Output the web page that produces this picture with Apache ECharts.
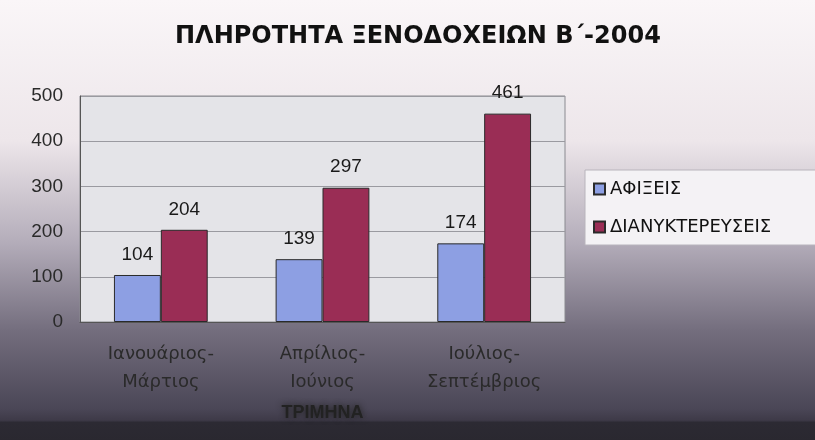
<!DOCTYPE html>
<html>
<head>
<meta charset="utf-8">
<script src="https://cdn.jsdelivr.net/npm/echarts@6/dist/echarts.min.js"></script>
<style>
html,body{margin:0;padding:0;}
#c{width:815px;height:440px;}
</style>
</head>
<body>
<div id="c"></div>
<script>
const categories = ['Ιανουάριος-\nΜάρτιος', 'Απρίλιος-\nΙούνιος', 'Ιούλιος-\nΣεπτέμβριος'];
const arrivals = [104, 139, 174];
const overnights = [204, 297, 461];
const seriesNames = ['ΑΦΙΞΕΙΣ', 'ΔΙΑΝΥΚΤΕΡΕΥΣΕΙΣ'];
const titleText = 'ΠΛΗΡΟΤΗΤΑ ΞΕΝΟΔΟΧΕΙΩΝ Β΄-2004';
const xAxisName = 'ΤΡΙΜΗΝΑ';

const chart = echarts.init(document.getElementById('c'), null, {renderer: 'canvas'});
const font = '"Liberation Sans", Arial, sans-serif';
const wide = '"DejaVu Sans", Verdana, sans-serif';
const labelStyle = {show: true, position: 'top', distance: 11, color: '#1a1a1a', fontSize: 19, fontFamily: font};

chart.setOption({
  animation: false,
  backgroundColor: {
    type: 'linear', x: 0, y: 0, x2: 0, y2: 1,
    colorStops: [
      {offset: 0, color: '#faf6f8'},
      {offset: 0.32, color: '#ede6ea'},
      {offset: 0.55, color: '#b4adba'},
      {offset: 0.75, color: '#746e7e'},
      {offset: 0.93, color: '#4a4656'},
      {offset: 0.955, color: '#3e3a48'},
      {offset: 0.96, color: '#2c2a33'},
      {offset: 1, color: '#2a2830'}
    ]
  },
  title: {
    text: titleText,
    left: 170,
    top: 20,
    textStyle: {fontSize: 24, fontWeight: 'bold', color: '#111', fontFamily: wide}
  },
  legend: {
    orient: 'vertical',
    left: 585,
    top: 170,
    itemWidth: 11,
    itemHeight: 11,
    itemGap: 20,
    padding: [10, 60, 9, 8],
    backgroundColor: '#f4f2f5',
    borderColor: '#b8b4bc',
    borderWidth: 1,
    icon: 'rect',
    textStyle: {fontSize: 18, color: '#111', fontFamily: wide},
    data: seriesNames
  },
  grid: {
    left: 80, right: 250, top: 96, bottom: 118,
    show: true,
    backgroundColor: '#e4e4e8',
    borderColor: '#8a8a90',
    borderWidth: 1
  },
  xAxis: {
    type: 'category',
    data: categories,
    name: xAxisName,
    nameLocation: 'middle',
    nameGap: 82,
    nameTextStyle: {fontSize: 18, fontWeight: 'bold', color: '#222', fontFamily: font, textShadowColor: '#222', textShadowBlur: 6},
    axisTick: {show: false},
    axisLine: {lineStyle: {color: '#555', width: 1}},
    axisLabel: {fontSize: 18, color: '#2a2a2a', lineHeight: 28, margin: 18, fontFamily: wide}
  },
  yAxis: {
    type: 'value',
    min: 0, max: 500, interval: 100,
    axisLine: {show: true, lineStyle: {color: '#555'}},
    axisTick: {show: false},
    axisLabel: {fontSize: 19, color: '#2a2a2a', margin: 17, fontFamily: font},
    splitLine: {lineStyle: {color: '#9a9aa0', width: 1}}
  },
  series: [
    {
      name: seriesNames[0], type: 'bar', data: arrivals,
      barGap: '0%', barCategoryGap: '42%',
      itemStyle: {color: '#8d9fe3', borderColor: '#2a2a2a', borderWidth: 1},
      label: labelStyle
    },
    {
      name: seriesNames[1], type: 'bar', data: overnights,
      itemStyle: {color: '#9a2d55', borderColor: '#2a2a2a', borderWidth: 1},
      label: labelStyle
    }
  ]
});
</script>
</body>
</html>
